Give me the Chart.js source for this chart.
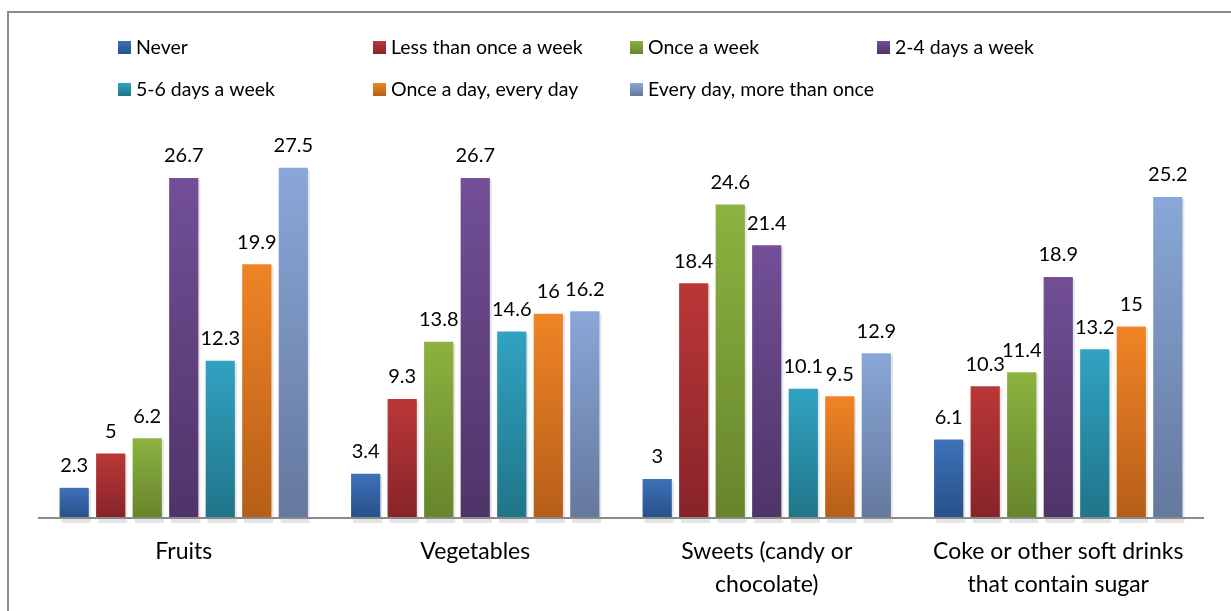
<!DOCTYPE html>
<html>
<head>
<meta charset="utf-8">
<script src="https://cdn.jsdelivr.net/npm/chart.js@4.4.1/dist/chart.umd.min.js"></script>
<style>
  html, body { margin: 0; padding: 0; background: #fff; }
  #wrap { width: 1231px; height: 611px; position: relative; }
</style>
</head>
<body>
<div id="wrap"><canvas id="freqChart"></canvas></div>
<script>
var categories = ["Fruits", "Vegetables", ["Sweets (candy or", "chocolate)"], ["Coke or other soft drinks", "that contain sugar"]];
var seriesNames = ["Never", "Less than once a week", "Once a week", "2-4 days a week", "5-6 days a week", "Once a day, every day", "Every day, more than once"];
var never = [2.3, 3.4, 3, 6.1];
var lessThanWeekly = [5, 9.3, 18.4, 10.3];
var onceWeek = [6.2, 13.8, 24.6, 11.4];
var twoToFour = [26.7, 26.7, 21.4, 18.9];
var fiveToSix = [12.3, 14.6, 10.1, 13.2];
var onceDay = [19.9, 16, 9.5, 15];
var moreThanOnce = [27.5, 16.2, 12.9, 25.2];

var seriesValues = [never, lessThanWeekly, onceWeek, twoToFour, fiveToSix, onceDay, moreThanOnce];
// light top / dark bottom, like the office gradient fill
var topColors = ["#3d71b8", "#bb3737", "#8db23f", "#724f97", "#31a2c2", "#f08426", "#89a7d8"];
var bottomColors = ["#27518a", "#87242a", "#66852c", "#4f3468", "#1f7589", "#b65e18", "#65789e"];
var FONT = "Lato";

function barGradient(i) {
  return function (c) {
    var chart = c.chart;
    if (!chart.chartArea || c.dataIndex === undefined) return topColors[i];
    var y = chart.scales.y;
    var top = y.getPixelForValue(seriesValues[i][c.dataIndex]);
    var bottom = y.getPixelForValue(0);
    if (!isFinite(top) || !isFinite(bottom) || top === bottom) return topColors[i];
    var g = chart.ctx.createLinearGradient(0, top, 0, bottom);
    g.addColorStop(0, topColors[i]);
    g.addColorStop(1, bottomColors[i]);
    return g;
  };
}

var datasets = seriesNames.map(function (name, i) {
  return {
    label: name,
    data: seriesValues[i],
    backgroundColor: barGradient(i),
    borderWidth: 0,
    categoryPercentage: 0.877,
    barPercentage: 0.8,
  };
});

var decor = {
  id: "decor",
  beforeDraw: function (chart) {
    var ctx = chart.ctx;
    ctx.save();
    ctx.fillStyle = "#fff";
    ctx.fillRect(0, 0, chart.width, chart.height);
    ctx.strokeStyle = "#8c8c8c";
    ctx.lineWidth = 2;
    ctx.strokeRect(8, 12, chart.width + 20, chart.height + 20);
    ctx.restore();
  },
  beforeDatasetsDraw: function (chart) {
    // soft shadow under the bars
    var ctx = chart.ctx;
    ctx.save();
    chart.data.datasets.forEach(function (ds, i) {
      chart.getDatasetMeta(i).data.forEach(function (el) {
        ctx.fillStyle = "rgba(0,0,0,0.10)";
        ctx.fillRect(el.x - el.width / 2 + 2, el.y + 2, el.width, el.base - el.y + 4);
      });
    });
    ctx.restore();
  },
  afterDatasetsDraw: function (chart) {
    var ctx = chart.ctx;
    var area = chart.chartArea;
    ctx.save();
    ctx.strokeStyle = "#8a8a8a";
    ctx.lineWidth = 2;
    ctx.beginPath();
    ctx.moveTo(area.left, area.bottom + 1);
    ctx.lineTo(area.right, area.bottom + 1);
    ctx.stroke();

    ctx.fillStyle = "#000";
    ctx.font = "20px " + FONT;
    ctx.textAlign = "center";
    ctx.textBaseline = "middle";
    chart.data.datasets.forEach(function (ds, i) {
      chart.getDatasetMeta(i).data.forEach(function (el, j) {
        ctx.fillText(String(ds.data[j]), el.x, el.y - 22);
      });
    });

    // legend, 4 columns x 2 rows
    var colX = [118, 373, 630, 877];
    var rowY = [47, 89];
    ctx.textAlign = "left";
    ctx.font = "19.5px " + FONT;
    chart.data.datasets.forEach(function (ds, i) {
      var x = colX[i % 4];
      var y = rowY[Math.floor(i / 4)];
      var g = ctx.createLinearGradient(0, y - 6, 0, y + 7);
      g.addColorStop(0, topColors[i]);
      g.addColorStop(1, bottomColors[i]);
      ctx.fillStyle = g;
      ctx.fillRect(x, y - 6, 13, 13);
      ctx.fillStyle = "#000";
      ctx.fillText(ds.label, x + 18, y + 1);
    });
    ctx.restore();
  },
};

new Chart(document.getElementById("freqChart"), {
  type: "bar",
  data: { labels: categories, datasets: datasets },
  plugins: [decor],
  options: {
    responsive: true,
    maintainAspectRatio: false,
    animation: false,
    layout: { padding: { top: 136, left: 38, right: 27, bottom: 0 } },
    plugins: {
      legend: { display: false },
      tooltip: { enabled: false },
    },
    scales: {
      x: {
        grid: { display: false },
        border: { display: false },
        ticks: {
          color: "#000",
          font: { family: FONT, size: 23, lineHeight: 1.43 },
          padding: 10,
          maxRotation: 0,
          autoSkip: false,
        },
        afterFit: function (scale) { scale.height = 94; },
      },
      y: {
        display: false,
        min: 0,
        max: 30,
      },
    },
  },
});
</script>
</body>
</html>
